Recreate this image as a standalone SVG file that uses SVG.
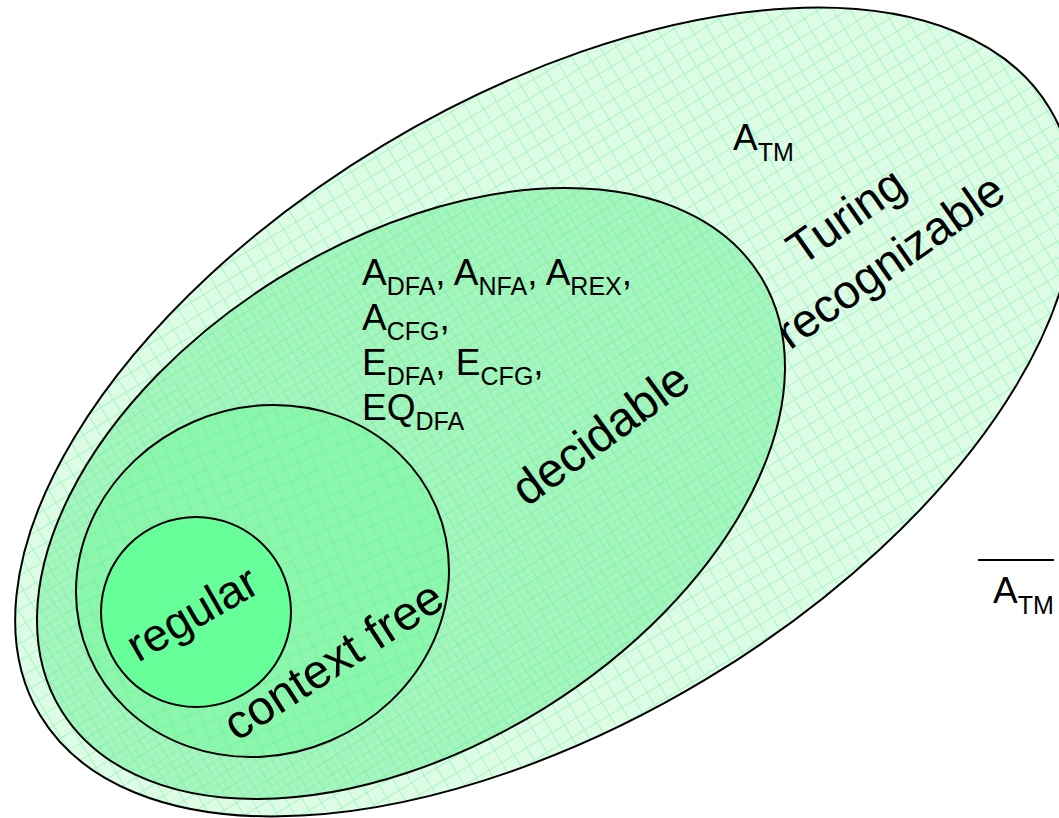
<svg xmlns="http://www.w3.org/2000/svg" width="1059" height="818" viewBox="0 0 1059 818">
<defs>
<pattern id="gridA" patternUnits="userSpaceOnUse" x="5.7" y="3.7" width="14.6" height="14.6">
<path d="M0 0.5H14.6M0.5 0V14.6" stroke="#5fe88f" stroke-opacity="0.4" stroke-width="1" fill="none"/>
</pattern>
<pattern id="gridB" patternUnits="userSpaceOnUse" x="12.8" y="10.8" width="14.6" height="14.6">
<path d="M0 0.5H14.6M0.5 0V14.6" stroke="#5fe88f" stroke-opacity="0.25" stroke-width="1" fill="none"/>
</pattern>
</defs>
<style>
.edge{fill:none;stroke:#000;stroke-width:2}
.t{font-family:"Liberation Sans",Arial,sans-serif;fill:#000}
.big{font-size:37px}
.sub{font-size:25px}
.lab{font-size:48px;text-anchor:middle}
</style>
<rect width="1059" height="818" fill="#fff"/>
<g id="turing-recognizable">
<ellipse cx="545" cy="412" rx="589" ry="312" transform="rotate(-31 545 412)" fill="#dcfce6"/>
<ellipse cx="545" cy="412" rx="589" ry="312" transform="rotate(-31 545 412)" fill="url(#gridA)"/>
<ellipse class="edge" cx="545" cy="412" rx="589" ry="312" transform="rotate(-31 545 412)"/>
<text class="t lab" style="font-size:47px" x="855" y="229" transform="rotate(-35 855 229)">Turing</text>
<text class="t lab" style="font-size:47px" x="899" y="274" transform="rotate(-35 899 274)">recognizable</text>
<text class="t big" x="733" y="150">A<tspan class="sub" dy="11">TM</tspan></text>
</g>
<g id="decidable">
<ellipse cx="411" cy="493.5" rx="411.5" ry="252.7" transform="rotate(-31.9 411 493.5)" fill="#a4f5be"/>
<ellipse cx="411" cy="493.5" rx="411.5" ry="252.7" transform="rotate(-31.9 411 493.5)" fill="url(#gridA)"/>
<ellipse cx="411" cy="493.5" rx="411.5" ry="252.7" transform="rotate(-31.9 411 493.5)" fill="url(#gridB)"/>
<ellipse class="edge" cx="411" cy="493.5" rx="411.5" ry="252.7" transform="rotate(-31.9 411 493.5)"/>
<text class="t lab" x="610" y="447" transform="rotate(-36 610 447)">decidable</text>
</g>
<g id="context-free">
<ellipse cx="262.5" cy="581" rx="188.8" ry="173.5" transform="rotate(-23.2 262.5 581)" fill="#8bf7ac"/>
<ellipse cx="262.5" cy="581" rx="188.8" ry="173.5" transform="rotate(-23.2 262.5 581)" fill="url(#gridA)"/>
<ellipse class="edge" cx="262.5" cy="581" rx="188.8" ry="173.5" transform="rotate(-23.2 262.5 581)"/>
<text class="t lab" x="342" y="674" transform="rotate(-33 342 674)">context free</text>
</g>
<g id="regular">
<circle class="edge" cx="196" cy="612" r="95" style="fill:#66ff99"/>
<text class="t lab" style="font-size:46px" x="200" y="627" transform="rotate(-30 200 627)">regular</text>
</g>
<g id="decidable-languages">
<text class="t big" x="362" y="285">A<tspan class="sub" dy="10">DFA</tspan><tspan dy="-10">, A</tspan><tspan class="sub" dy="10">NFA</tspan><tspan dy="-10">, A</tspan><tspan class="sub" dy="10">REX</tspan><tspan dy="-10">,</tspan></text>
<text class="t big" x="362" y="330">A<tspan class="sub" dy="10">CFG</tspan><tspan dy="-10">,</tspan></text>
<text class="t big" x="362" y="375">E<tspan class="sub" dy="10">DFA</tspan><tspan dy="-10">, E</tspan><tspan class="sub" dy="10">CFG</tspan><tspan dy="-10">,</tspan></text>
<text class="t big" x="362" y="420">EQ<tspan class="sub" dy="10">DFA</tspan></text>
</g>
<g id="complement-atm">
<line x1="978" y1="560" x2="1054" y2="560" stroke="#000" stroke-width="2"/>
<text class="t big" x="993" y="603">A<tspan class="sub" dy="11">TM</tspan></text>
</g>
<g id="connectors"/>
</svg>
